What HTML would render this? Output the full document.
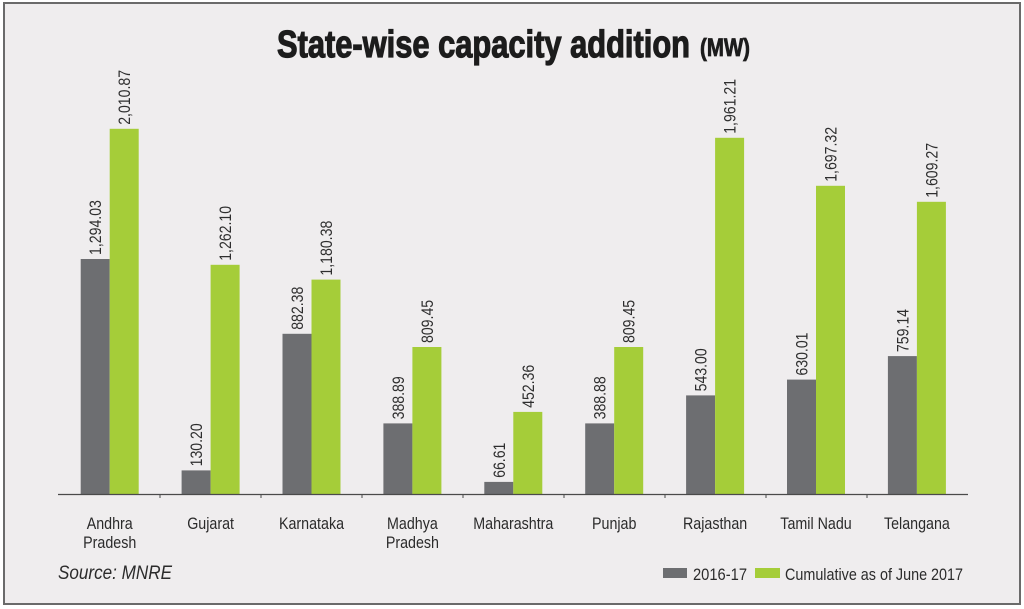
<!DOCTYPE html>
<html>
<head>
<meta charset="utf-8">
<style>
  html,body{margin:0;padding:0;background:#ffffff;}
  svg{display:block;}
  text{font-family:"Liberation Sans", Arial, sans-serif;}
</style>
</head>
<body>
<svg width="1024" height="609" viewBox="0 0 1024 609" xmlns="http://www.w3.org/2000/svg">
  <rect x="0" y="0" width="1024" height="609" fill="#ffffff"/>
  <rect x="4" y="3" width="1016" height="601" fill="#efedee" stroke="#6a6a6a" stroke-width="2"/>

  <!-- Title -->
  <text x="277" y="57" font-size="38" font-weight="bold" fill="#1c1c1c" stroke="#1c1c1c" stroke-width="1.2" textLength="413" lengthAdjust="spacingAndGlyphs">State-wise capacity addition</text>
  <text x="700" y="56" font-size="25" font-weight="bold" fill="#1c1c1c" stroke="#1c1c1c" stroke-width="0.8" textLength="50" lengthAdjust="spacingAndGlyphs">(MW)</text>

  <!-- Bars -->
  <g>
    <!-- Andhra Pradesh -->
    <rect x="80.7" y="259.0" width="29" height="235.0" fill="#6d6e71"/>
    <rect x="109.7" y="128.8" width="29" height="365.2" fill="#a5cd39"/>
    <!-- Gujarat -->
    <rect x="181.6" y="470.4" width="29" height="23.6" fill="#6d6e71"/>
    <rect x="210.6" y="264.8" width="29" height="229.2" fill="#a5cd39"/>
    <!-- Karnataka -->
    <rect x="282.5" y="333.8" width="29" height="160.2" fill="#6d6e71"/>
    <rect x="311.5" y="279.6" width="29" height="214.4" fill="#a5cd39"/>
    <!-- Madhya Pradesh -->
    <rect x="383.4" y="423.4" width="29" height="70.6" fill="#6d6e71"/>
    <rect x="412.4" y="347.0" width="29" height="147.0" fill="#a5cd39"/>
    <!-- Maharashtra -->
    <rect x="484.3" y="481.9" width="29" height="12.1" fill="#6d6e71"/>
    <rect x="513.3" y="411.9" width="29" height="82.1" fill="#a5cd39"/>
    <!-- Punjab -->
    <rect x="585.2" y="423.4" width="29" height="70.6" fill="#6d6e71"/>
    <rect x="614.2" y="347.0" width="29" height="147.0" fill="#a5cd39"/>
    <!-- Rajasthan -->
    <rect x="686.1" y="395.4" width="29" height="98.6" fill="#6d6e71"/>
    <rect x="715.1" y="137.8" width="29" height="356.2" fill="#a5cd39"/>
    <!-- Tamil Nadu -->
    <rect x="787.0" y="379.6" width="29" height="114.4" fill="#6d6e71"/>
    <rect x="816.0" y="185.8" width="29" height="308.2" fill="#a5cd39"/>
    <!-- Telangana -->
    <rect x="887.9" y="356.1" width="29" height="137.9" fill="#6d6e71"/>
    <rect x="916.9" y="201.8" width="29" height="292.2" fill="#a5cd39"/>
  </g>

  <!-- Axis -->
  <line x1="58" y1="494.5" x2="968" y2="494.5" stroke="#4a4a4a" stroke-width="1.2"/>
  <g stroke="#4a4a4a" stroke-width="1">
    <line x1="160" y1="494" x2="160" y2="498"/>
    <line x1="261" y1="494" x2="261" y2="498"/>
    <line x1="362" y1="494" x2="362" y2="498"/>
    <line x1="463" y1="494" x2="463" y2="498"/>
    <line x1="564" y1="494" x2="564" y2="498"/>
    <line x1="665" y1="494" x2="665" y2="498"/>
    <line x1="766" y1="494" x2="766" y2="498"/>
    <line x1="867" y1="494" x2="867" y2="498"/>
  </g>

  <!-- Value labels -->
  <g font-size="17" fill="#2e2e2e">
    <text transform="translate(101.2,255) rotate(-90) scale(0.83,1)">1,294.03</text>
    <text transform="translate(130.2,124.8) rotate(-90) scale(0.83,1)">2,010.87</text>
    <text transform="translate(202.1,466.4) rotate(-90) scale(0.83,1)">130.20</text>
    <text transform="translate(231.1,260.8) rotate(-90) scale(0.83,1)">1,262.10</text>
    <text transform="translate(303.0,329.8) rotate(-90) scale(0.83,1)">882.38</text>
    <text transform="translate(332.0,275.6) rotate(-90) scale(0.83,1)">1,180.38</text>
    <text transform="translate(403.9,419.4) rotate(-90) scale(0.83,1)">388.89</text>
    <text transform="translate(432.9,343.0) rotate(-90) scale(0.83,1)">809.45</text>
    <text transform="translate(504.8,477.9) rotate(-90) scale(0.83,1)">66.61</text>
    <text transform="translate(533.8,407.9) rotate(-90) scale(0.83,1)">452.36</text>
    <text transform="translate(605.7,419.4) rotate(-90) scale(0.83,1)">388.88</text>
    <text transform="translate(634.7,343.0) rotate(-90) scale(0.83,1)">809.45</text>
    <text transform="translate(706.6,391.4) rotate(-90) scale(0.83,1)">543.00</text>
    <text transform="translate(735.6,133.8) rotate(-90) scale(0.83,1)">1,961.21</text>
    <text transform="translate(807.5,375.6) rotate(-90) scale(0.83,1)">630.01</text>
    <text transform="translate(836.5,181.8) rotate(-90) scale(0.83,1)">1,697.32</text>
    <text transform="translate(908.4,352.1) rotate(-90) scale(0.83,1)">759.14</text>
    <text transform="translate(937.4,197.8) rotate(-90) scale(0.83,1)">1,609.27</text>
  </g>

  <!-- Category labels -->
  <g font-size="17" fill="#2b2b2b" text-anchor="middle">
    <text transform="translate(109.7,529) scale(0.84,1)">Andhra</text>
    <text transform="translate(109.7,548) scale(0.84,1)">Pradesh</text>
    <text transform="translate(210.6,529) scale(0.84,1)">Gujarat</text>
    <text transform="translate(311.5,529) scale(0.84,1)">Karnataka</text>
    <text transform="translate(412.4,529) scale(0.84,1)">Madhya</text>
    <text transform="translate(412.4,548) scale(0.84,1)">Pradesh</text>
    <text transform="translate(513.3,529) scale(0.84,1)">Maharashtra</text>
    <text transform="translate(614.2,529) scale(0.84,1)">Punjab</text>
    <text transform="translate(715.1,529) scale(0.84,1)">Rajasthan</text>
    <text transform="translate(816.0,529) scale(0.84,1)">Tamil Nadu</text>
    <text transform="translate(916.9,529) scale(0.84,1)">Telangana</text>
  </g>

  <!-- Source -->
  <text x="58" y="579" font-size="19" font-style="italic" fill="#2b2b2b" textLength="114" lengthAdjust="spacingAndGlyphs">Source: MNRE</text>

  <!-- Legend -->
  <rect x="663" y="568" width="24" height="10" fill="#6d6e71"/>
  <text x="693" y="580" font-size="17" fill="#2b2b2b" textLength="54" lengthAdjust="spacingAndGlyphs">2016-17</text>
  <rect x="755" y="568" width="25" height="10" fill="#a5cd39"/>
  <text x="785" y="580" font-size="17" fill="#2b2b2b" textLength="178" lengthAdjust="spacingAndGlyphs">Cumulative as of June 2017</text>
</svg>
</body>
</html>
